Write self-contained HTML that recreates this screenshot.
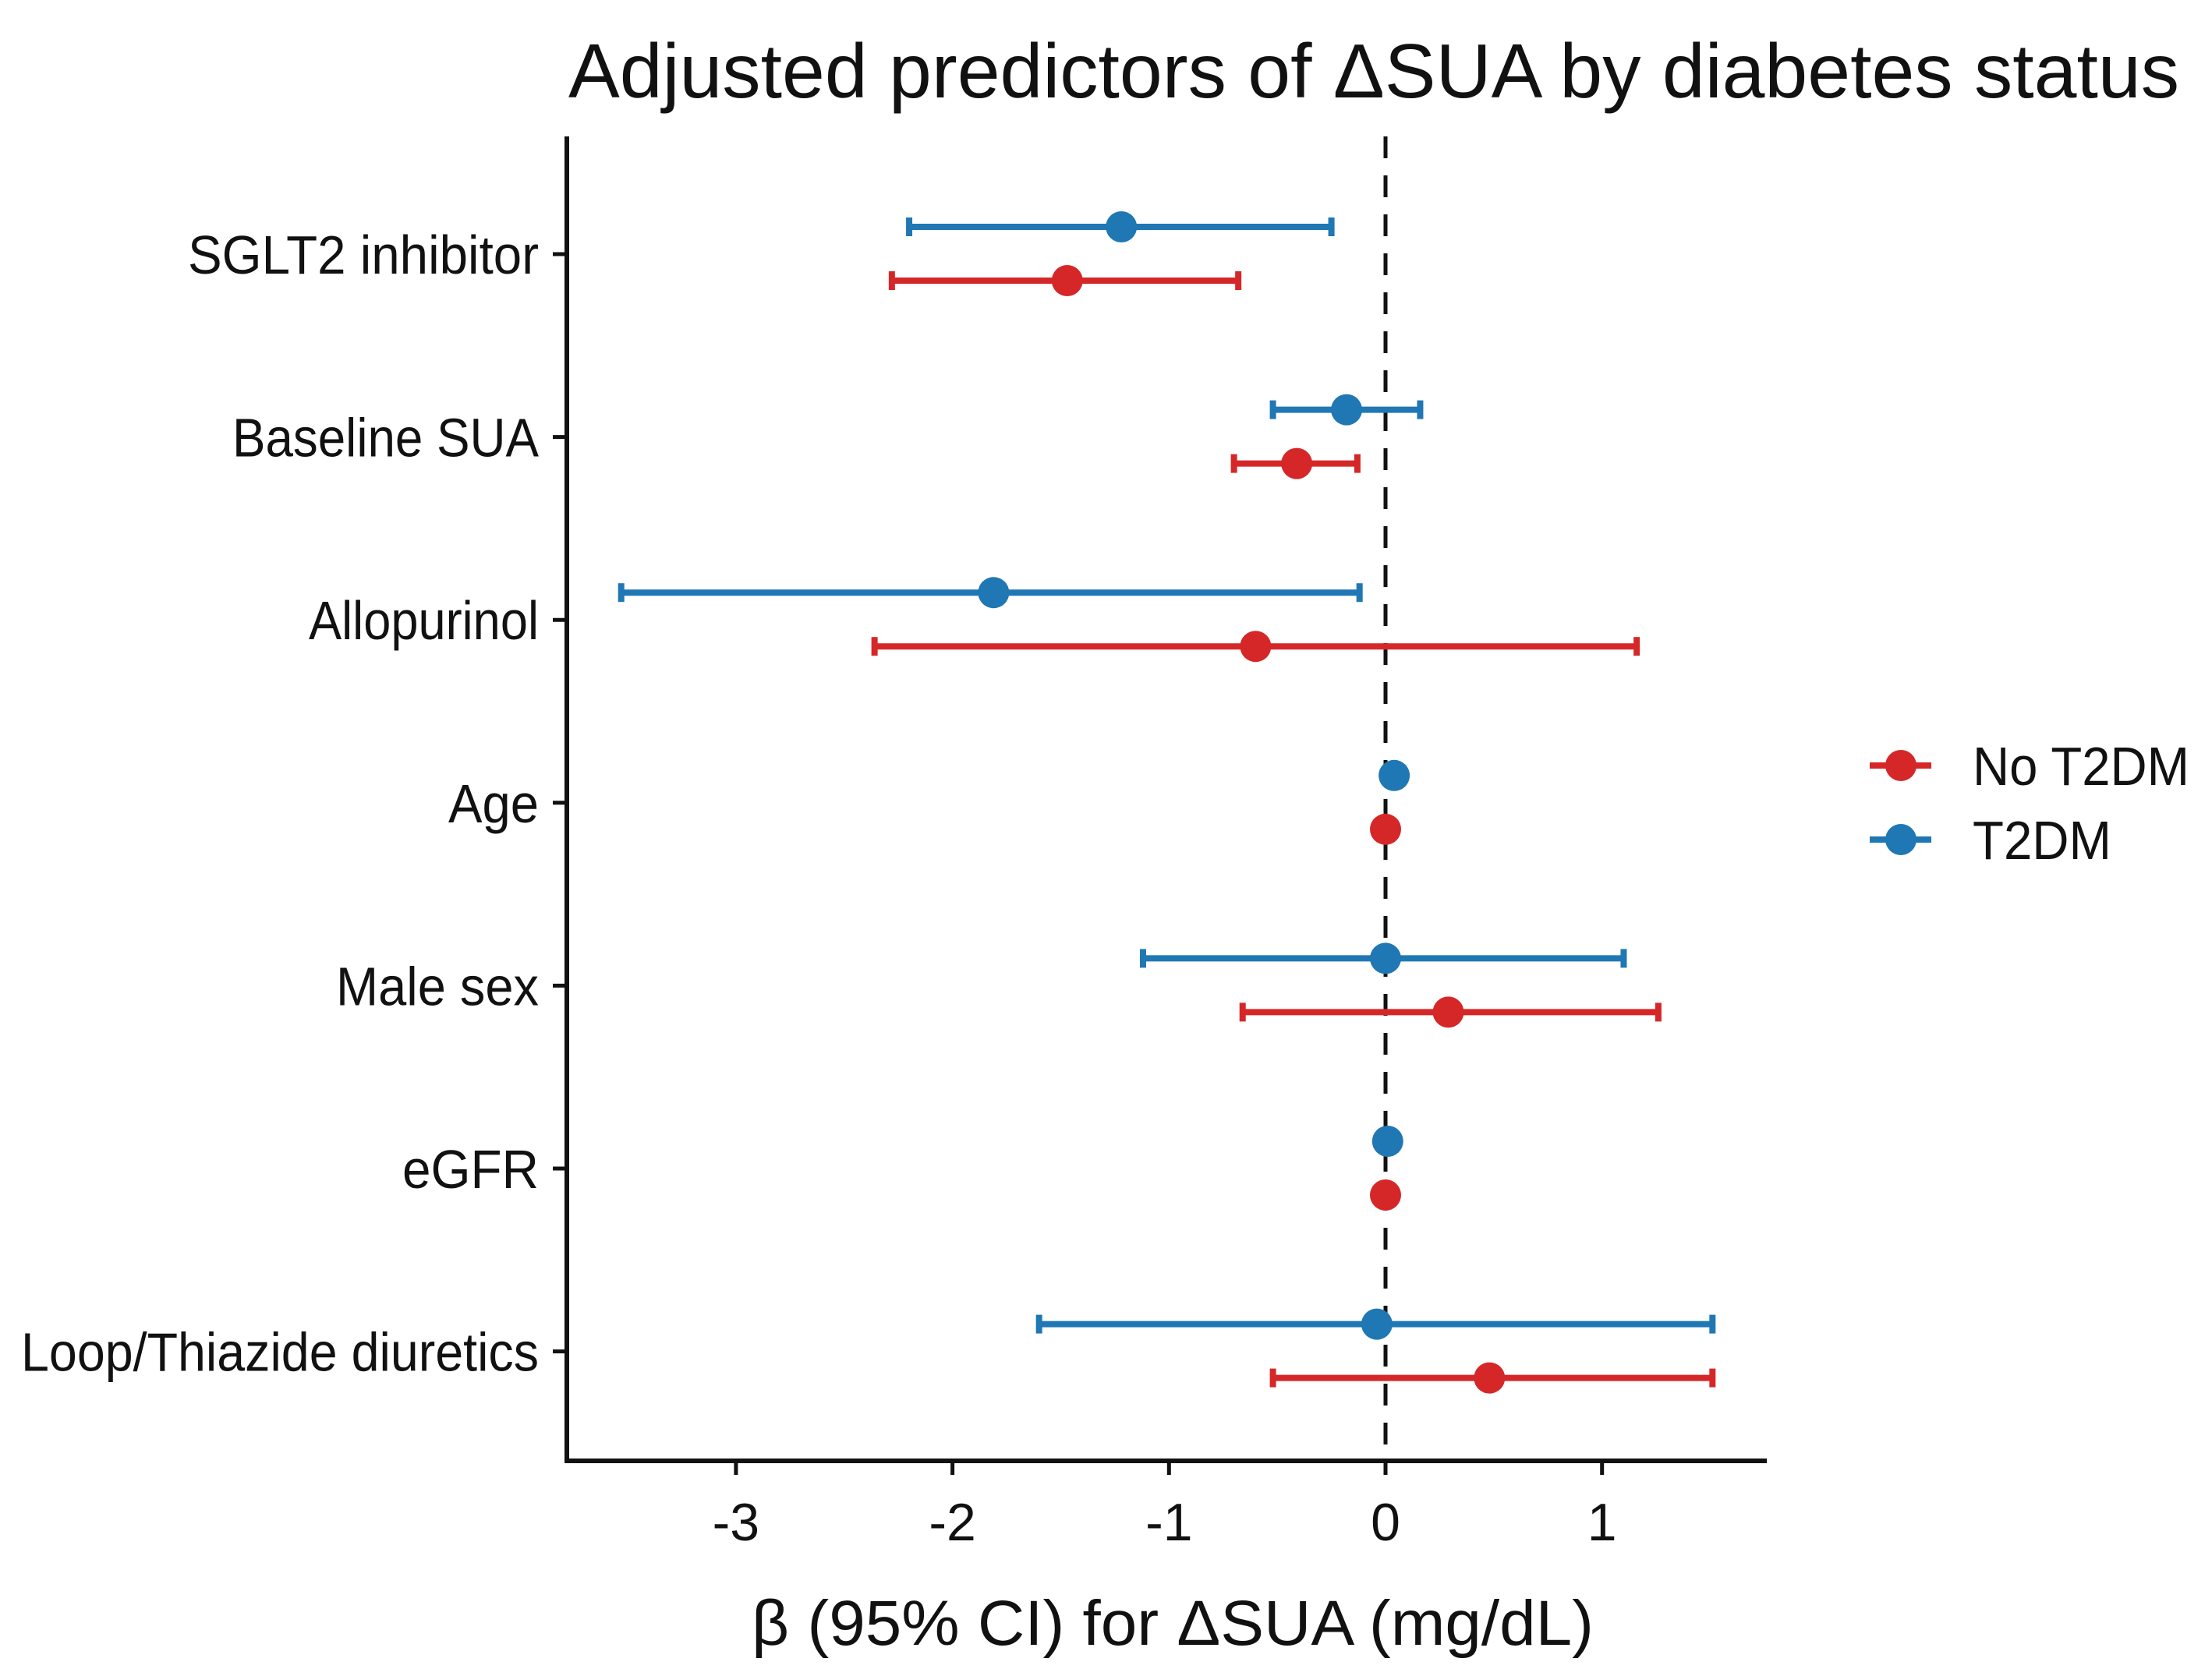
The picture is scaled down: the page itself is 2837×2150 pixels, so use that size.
<!DOCTYPE html>
<html><head><meta charset="utf-8"><style>
html,body{margin:0;padding:0;background:#fff;}
svg{display:block;font-family:"Liberation Sans",Arial,sans-serif;}
</style></head><body>
<svg id="chart" width="2837" height="2150" viewBox="0 0 2837 2150" xmlns="http://www.w3.org/2000/svg">
<rect width="2837" height="2150" fill="#fff"/>
<text x="729" y="125" font-size="98" textLength="2066" lengthAdjust="spacingAndGlyphs" fill="#111">Adjusted predictors of ΔSUA by diabetes status</text>
<g id="plot"></g>
<text x="964" y="2110" font-size="82" textLength="1080" lengthAdjust="spacingAndGlyphs" fill="#111">β (95% CI) for ΔSUA (mg/dL)</text>
<g>
<line x1="2398" y1="982" x2="2477" y2="982" stroke="#d62728" stroke-width="8"/>
<circle cx="2438" cy="982" r="20" fill="#d62728"/>
<text x="2530" y="1007" font-size="70" textLength="278" lengthAdjust="spacingAndGlyphs" fill="#111">No T2DM</text>
<line x1="2398" y1="1077" x2="2477" y2="1077" stroke="#1f77b4" stroke-width="8"/>
<circle cx="2438" cy="1077" r="20" fill="#1f77b4"/>
<text x="2530" y="1102" font-size="70" textLength="178" lengthAdjust="spacingAndGlyphs" fill="#111">T2DM</text>
</g>
</svg>
<script>
const categories = ["SGLT2 inhibitor","Baseline SUA","Allopurinol","Age","Male sex","eGFR","Loop/Thiazide diuretics"];
const labelWidths = [450,393,295,116,260,175,664];
const t2dmEst = [-1.22,-0.18,-1.81,0.04,0.0,0.01,-0.04];
const t2dmLo = [-2.2,-0.52,-3.53,0.0,-1.12,0.0,-1.6];
const t2dmHi = [-0.25,0.16,-0.12,0.08,1.1,0.02,1.51];
const noEst = [-1.47,-0.41,-0.6,0.0,0.29,0.0,0.48];
const noLo = [-2.28,-0.7,-2.36,-0.01,-0.66,-0.01,-0.52];
const noHi = [-0.68,-0.13,1.16,0.01,1.26,0.01,1.51];
const xTicks = [-3,-2,-1,0,1];
const xTickLabels = ["-3","-2","-1","0","1"];

const NS="http://www.w3.org/2000/svg";
const g=document.getElementById('plot');
const L=727,R=2266,T=175,B=1874;
function xs(v){return 1777+v*277.7;}
function ys(i){return 326+i*234.6;}
function mk(tag,attrs,parent){const e=document.createElementNS(NS,tag);for(const k in attrs)e.setAttribute(k,attrs[k]);(parent||g).appendChild(e);return e;}

let z=mk('line',{x1:xs(0),y1:T,x2:xs(0),y2:B,stroke:'#111','stroke-width':5,'stroke-dasharray':'28 22'});



function series(est,lo,hi,color,off,name){
  for(let i=0;i<categories.length;i++){
    const y=ys(i)+off;
    const grp=mk('g',{});
    
    
    mk('line',{x1:xs(lo[i]),y1:y,x2:xs(hi[i]),y2:y,stroke:color,'stroke-width':8},grp);
    mk('line',{x1:xs(lo[i]),y1:y-12,x2:xs(lo[i]),y2:y+12,stroke:color,'stroke-width':8},grp);
    mk('line',{x1:xs(hi[i]),y1:y-12,x2:xs(hi[i]),y2:y+12,stroke:color,'stroke-width':8},grp);
    mk('circle',{cx:xs(est[i]),cy:y,r:20,fill:color},grp);
  }
}
series(t2dmEst,t2dmLo,t2dmHi,'#1f77b4',-35,'t2dm-point');
series(noEst,noLo,noHi,'#d62728',34,'no-t2dm-point');

let ya=mk('line',{x1:L,y1:T,x2:L,y2:B+3,stroke:'#111','stroke-width':6});


let xa=mk('line',{x1:L-3,y1:B,x2:R,y2:B,stroke:'#111','stroke-width':6});



for(let i=0;i<categories.length;i++){
  const y=ys(i);
  mk('line',{x1:L-18,y1:y,x2:L,y2:y,stroke:'#111','stroke-width':5});
  const t=mk('text',{x:691,y:y+25,'font-size':70,'text-anchor':'end',fill:'#111',textLength:labelWidths[i],lengthAdjust:'spacingAndGlyphs'});
  t.textContent=categories[i];
  
  
}
for(let j=0;j<xTicks.length;j++){
  const x=xs(xTicks[j]);
  mk('line',{x1:x,y1:B,x2:x,y2:B+18,stroke:'#111','stroke-width':5});
  const t=mk('text',{x:x,y:1976,'font-size':68,'text-anchor':'middle',fill:'#111'});
  t.textContent=xTickLabels[j];
  
  
}
</script>
</body></html>
